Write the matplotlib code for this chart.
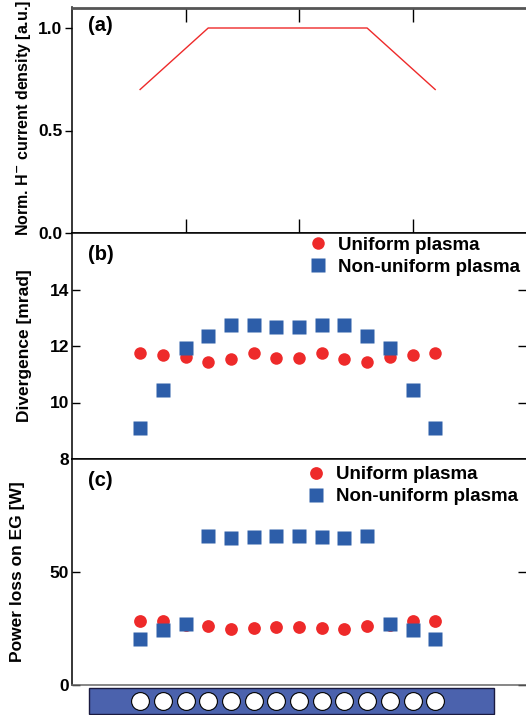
import numpy as np
import matplotlib
matplotlib.use("Agg")
import matplotlib.pyplot as plt
from matplotlib.patches import Rectangle

plt.rcParams["font.family"] = ["Liberation Sans", "DejaVu Sans"]
plt.rcParams["font.weight"] = "bold"
plt.rcParams["axes.labelweight"] = "bold"
plt.rcParams["mathtext.default"] = "bf"

# beamlet index (14 apertures)
beamlet = np.arange(1, 15)

# (a) normalised H- current density
current_density = [0.7, 0.8, 0.9, 1.0, 1.0, 1.0, 1.0, 1.0, 1.0, 1.0, 1.0, 0.9, 0.8, 0.7]

# (b) divergence [mrad]
div_uniform = [11.74, 11.68, 11.61, 11.44, 11.53, 11.74, 11.59,
               11.59, 11.74, 11.53, 11.44, 11.61, 11.68, 11.74]
div_nonuniform = [9.08, 10.46, 11.93, 12.36, 12.75, 12.73, 12.66,
                  12.66, 12.73, 12.75, 12.36, 11.93, 10.46, 9.08]

# (c) power loss on EG [W]
loss_uniform = [28.1, 28.1, 26.6, 25.9, 25.0, 25.3, 25.6,
                25.6, 25.3, 25.0, 25.9, 26.6, 28.1, 28.1]
loss_nonuniform = [20.4, 24.3, 26.8, 65.8, 65.1, 65.7, 65.8,
                   65.8, 65.7, 65.1, 66.1, 26.8, 24.3, 20.4]

RED = "#ee2a2a"
BLUE = "#2d5ea9"
PLATE = "#4b62ad"

W, H = 526, 715
fig = plt.figure(figsize=(W / 100, H / 100), dpi=100)

def px_axes(top, bottom):
    return fig.add_axes([72 / W, (H - bottom) / H, (W - 72) / W, (bottom - top) / H])

ax_a = px_axes(7.5, 233)
ax_b = px_axes(233, 459)
ax_c = px_axes(459, 685)

for ax in (ax_a, ax_b, ax_c):
    ax.set_xlim(-2, 18)
    ax.spines["right"].set_visible(False)
    for s in ("left", "top", "bottom"):
        ax.spines[s].set_linewidth(1.1)
    ax.tick_params(axis="y", which="both", left=True, right=True, labelsize=12.5,
                   width=1.0, length=5, direction="inout", pad=2)
    ax.tick_params(axis="y", right=True, direction="in", length=6)
    ax.tick_params(axis="x", bottom=False, top=False, labelbottom=False)

leg_kw = dict(frameon=False, handlelength=0.8, handletextpad=0.67, labelspacing=0.26,
              borderpad=0, borderaxespad=0, prop={"weight": "bold", "size": 13.5})

# panel (a)
ax_a.plot(beamlet, current_density, color=RED, lw=1.0)
ax_a.set_ylim(0, 1.1)
ax_a.set_yticks([0.0, 0.5, 1.0])
ax_a.set_yticklabels(["0.0", "0.5", "1.0"])
ax_a.set_xticks([3, 8, 13])
ax_a.tick_params(axis="x", bottom=True, top=True, direction="in", length=10, width=1.0)
ax_a.tick_params(axis="y", which="both", left=True, direction="out", length=5)
ax_a.tick_params(axis="y", right=True)
ax_a.spines["top"].set_color("#555555")
ax_a.spines["top"].set_linewidth(2)
ax_a.set_ylabel("Norm. H$^{-}$ current density [a.u.]", fontsize=11.5)
ax_a.yaxis.set_label_coords(-0.086, 0.51)
ax_a.text(0.035, 0.922, "(a)", transform=ax_a.transAxes, fontsize=14.5,
          fontweight="bold", va="center", ha="left")

# panel (b)
ax_b.plot(beamlet, div_uniform, "o", color=RED, ms=9, mec="none", label="Uniform plasma")
ax_b.plot(beamlet, div_nonuniform, "s", color=BLUE, ms=9.4, mec="none",
          label="Non-uniform plasma")
ax_b.set_ylim(8, 16)
ax_b.set_yticks([8, 10, 12, 14])
ax_b.set_ylabel("Divergence [mrad]", fontsize=12.5)
ax_b.yaxis.set_label_coords(-0.088, 0.5)
ax_b.text(0.035, 0.903, "(b)", transform=ax_b.transAxes, fontsize=14.5,
          fontweight="bold", va="center", ha="left")
ax_b.legend(loc="upper left", bbox_to_anchor=(0.525, 0.985), **leg_kw)

# panel (c)
ax_c.plot(beamlet, loss_uniform, "o", color=RED, ms=9.2, mec="none", label="Uniform plasma")
ax_c.plot(beamlet, loss_nonuniform, "s", color=BLUE, ms=10, mec="none",
          label="Non-uniform plasma")
ax_c.set_ylim(0, 100)
ax_c.set_yticks([0, 50])
ax_c.spines["bottom"].set_color("#666666")
ax_c.set_ylabel("Power loss on EG [W]", fontsize=12.5)
ax_c.yaxis.set_label_coords(-0.1035, 0.5)
ax_c.text(0.035, 0.907, "(c)", transform=ax_c.transAxes, fontsize=14.5,
          fontweight="bold", va="center", ha="left")
ax_c.legend(loc="upper left", bbox_to_anchor=(0.521, 0.968), **leg_kw)

# grid plate schematic under panel (c)
plate_left, plate_right = -1.26, 16.6
ax_p = fig.add_axes([72 / W, 0, (W - 72) / W, 30 / H])
ax_p.set_xlim(-2, 18)
ax_p.set_ylim(0, 30)
ax_p.axis("off")
ax_p.add_patch(Rectangle((plate_left, 1), plate_right - plate_left, 26,
                         facecolor=PLATE, edgecolor="#1a1a40", lw=1.0))
ax_p.scatter(beamlet, np.full(len(beamlet), 14), s=165, facecolor="white",
             edgecolor="black", linewidth=0.8, zorder=3)

fig.savefig("out.png", dpi=100)
